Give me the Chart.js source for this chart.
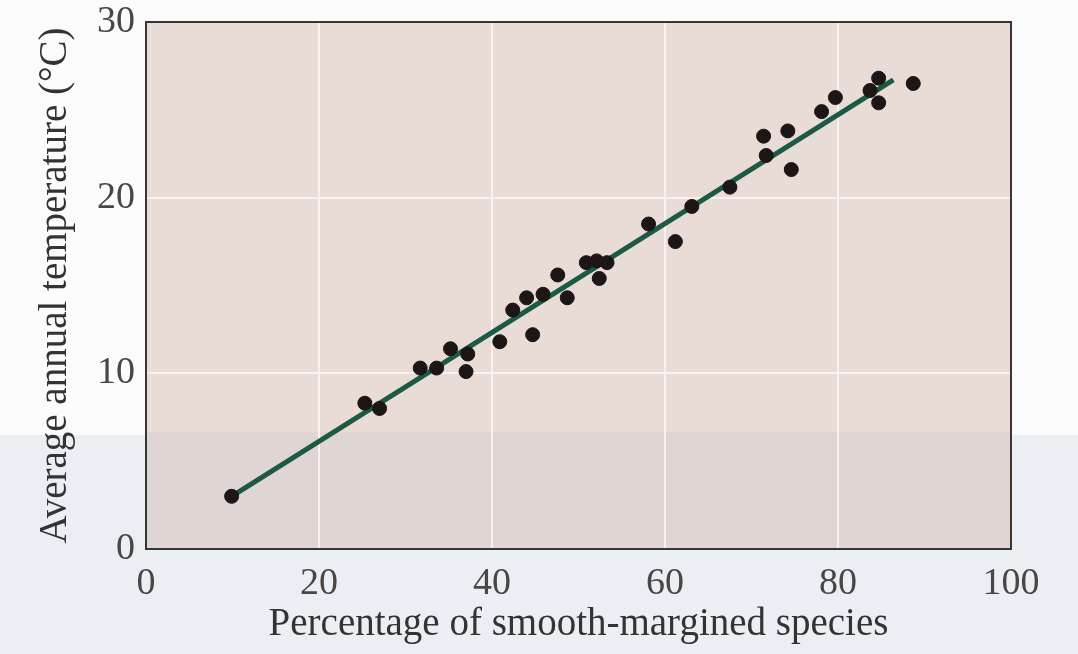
<!DOCTYPE html>
<html>
<head>
<meta charset="utf-8">
<script src="https://cdn.jsdelivr.net/npm/chart.js@4"></script>
<style>
  html, body { margin: 0; padding: 0; background: #fbfbfb; }
  #wrap { width: 1078px; height: 654px; }
</style>
</head>
<body>
<div id="wrap"><canvas id="myChart" width="1078" height="654"></canvas></div>
<script>
// smooth-margined species (%) vs. average annual temperature
const smoothPct = [9.9, 25.3, 27.0, 31.7, 33.6, 35.2, 37.2, 37.0, 40.9, 42.4, 44.0, 44.7, 45.9, 47.6, 48.7,
                   50.9, 52.1, 53.3, 52.4, 58.1, 61.2, 63.1, 67.5, 71.4, 71.7, 74.2, 74.6, 78.1, 79.7,
                   83.7, 84.7, 84.7, 88.7];
const avgTemp   = [3.0, 8.3, 8.0, 10.3, 10.3, 11.4, 11.1, 10.1, 11.8, 13.6, 14.3, 12.2, 14.5, 15.6, 14.3,
                   16.3, 16.4, 16.3, 15.4, 18.5, 17.5, 19.5, 20.6, 23.5, 22.4, 23.8, 21.6, 24.9, 25.7,
                   26.1, 26.8, 25.4, 26.5];
// regression line end points
const fitX = [9.9, 86.4];
const fitY = [3.0, 26.7];
const xTicks = [0, 20, 40, 60, 80, 100];
const yTicks = [0, 10, 20, 30];

const serif = "'Liberation Serif', 'DejaVu Serif', serif";

// page + plot paper tones (photo of a printed figure)
const paperPlugin = {
    id: 'paper',
    beforeDraw(chart) {
        const c = chart.ctx, a = chart.chartArea;
        c.save();
        c.fillStyle = '#fbfbfb';
        c.fillRect(0, 0, chart.width, chart.height);
        c.fillStyle = '#ebeff4';
        c.fillRect(0, 435, chart.width, chart.height - 435);
        c.fillStyle = '#e9dbd5';
        c.fillRect(a.left, a.top, a.right - a.left, a.bottom - a.top);
        c.fillStyle = '#dfd6d3';
        c.fillRect(a.left, 432, a.right - a.left, a.bottom - 432);
        c.restore();
    },
    afterDatasetsDraw(chart) {
        const c = chart.ctx, a = chart.chartArea;
        c.save();
        c.strokeStyle = '#3a3535';
        c.lineWidth = 2;
        c.strokeRect(a.left, a.top, a.right - a.left, a.bottom - a.top);
        c.restore();
    }
};

const points = smoothPct.map((x, i) => ({ x: x, y: avgTemp[i] }));
const fit = fitX.map((x, i) => ({ x: x, y: fitY[i] }));

new Chart(document.getElementById('myChart').getContext('2d'), {
    type: 'scatter',
    data: {
        datasets: [{
            label: 'sites',
            data: points,
            backgroundColor: '#1c1616',
            borderColor: '#1c1616',
            pointRadius: 7,
            pointHoverRadius: 7,
            order: 1
        }, {
            type: 'line',
            label: 'fit',
            data: fit,
            borderColor: '#1c5a46',
            borderWidth: 5,
            pointRadius: 0,
            fill: false,
            order: 2
        }]
    },
    options: {
        responsive: false,
        animation: false,
        layout: { padding: { left: 0, top: 22, right: 67, bottom: 0 } },
        plugins: {
            legend: { display: false },
            tooltip: { enabled: false }
        },
        scales: {
            x: {
                type: 'linear',
                min: 0,
                max: 100,
                afterBuildTicks(scale) { scale.ticks = xTicks.map(v => ({ value: v })); },
                afterFit(scale) { scale.height = 105; scale.paddingLeft = 0; scale.paddingRight = 0; },
                grid: {
                    color: ctx => (ctx.tick && (ctx.tick.value === 0 || ctx.tick.value === 100)) ? 'rgba(0,0,0,0)' : '#f7f2ef',
                    lineWidth: 2,
                    drawTicks: false
                },
                border: { display: false },
                ticks: {
                    padding: 12,
                    color: '#4a4646',
                    font: { family: serif, size: 38 },
                    maxRotation: 0
                },
                title: {
                    display: true,
                    text: 'Percentage of smooth-margined species',
                    color: '#333',
                    font: { family: serif, size: 39 },
                    padding: { top: 0, bottom: 6 }
                }
            },
            y: {
                type: 'linear',
                min: 0,
                max: 30,
                afterBuildTicks(scale) { scale.ticks = yTicks.map(v => ({ value: v })); },
                afterFit(scale) { scale.width = 146; scale.paddingTop = 0; scale.paddingBottom = 0; },
                grid: {
                    color: ctx => (ctx.tick && (ctx.tick.value === 0 || ctx.tick.value === 30)) ? 'rgba(0,0,0,0)' : '#f7f2ef',
                    lineWidth: 2,
                    drawTicks: false
                },
                border: { display: false },
                ticks: {
                    padding: 11,
                    color: '#4a4646',
                    font: { family: serif, size: 38 }
                },
                title: {
                    display: true,
                    text: 'Average annual temperature (°C)',
                    color: '#333',
                    font: { family: serif, size: 39 },
                    padding: { top: 32, bottom: 0 }
                }
            }
        }
    },
    plugins: [paperPlugin]
});
</script>
</body>
</html>
